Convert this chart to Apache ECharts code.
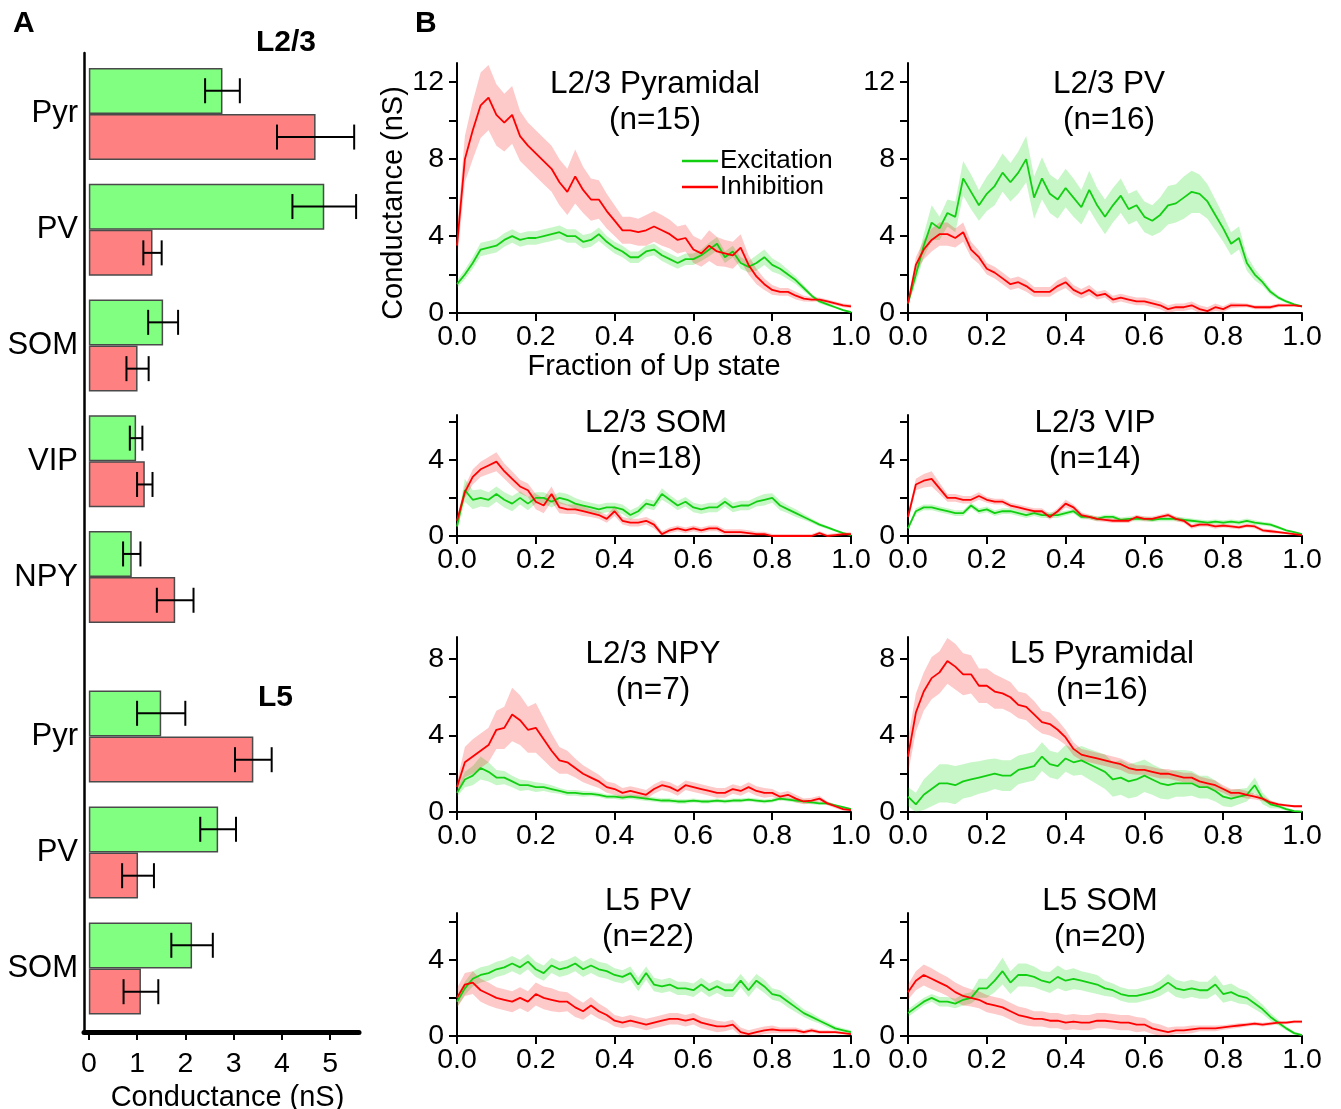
<!DOCTYPE html>
<html><head><meta charset="utf-8">
<script src="https://cdn.jsdelivr.net/npm/echarts@6/dist/echarts.min.js"></script>
<style>html,body{margin:0;padding:0;background:#fff}#c{width:1341px;height:1109px}</style>
</head><body><div id="c"></div>
<script>
// ---------- Panel A data ----------
const barCatsL23 = ['Pyr','PV','SOM','VIP','NPY'];
const excL23 = [2.77, 4.88, 1.54, 0.98, 0.89];
const excErrL23 = [0.36, 0.66, 0.31, 0.13, 0.18];
const inhL23 = [4.70, 1.32, 1.01, 1.16, 1.79];
const inhErrL23 = [0.80, 0.19, 0.23, 0.16, 0.38];
const barCatsL5 = ['Pyr','PV','SOM'];
const excL5 = [1.50, 2.68, 2.14];
const excErrL5 = [0.50, 0.37, 0.43];
const inhL5 = [3.41, 1.02, 1.08];
const inhErrL5 = [0.38, 0.33, 0.36];
const barTicks = [0,1,2,3,4,5];

// ---------- Panel B data ----------
const fraction = [0,0.02,0.04,0.06,0.08,0.1,0.12,0.14,0.16,0.18,
  0.2,0.22,0.24,0.26,0.28,0.3,0.32,0.34,0.36,0.38,
  0.4,0.42,0.44,0.46,0.48,0.5,0.52,0.54,0.56,0.58,
  0.6,0.62,0.64,0.66,0.68,0.7,0.72,0.74,0.76,0.78,
  0.8,0.82,0.84,0.86,0.88,0.9,0.92,0.94,0.96,0.98,1.0];
const xTicks = [0,0.2,0.4,0.6,0.8,1.0];
const yTicks12 = [0,2,4,6,8,10,12], yLabels12 = [0,4,8,12];
const yTicks6 = [0,2,4,6], yLabels6 = [0,4];
const yTicks8 = [0,2,4,6,8], yLabels8 = [0,4,8];

// L2/3 Pyramidal
const l23PyrExc = [1.5,2.0,2.6,3.3,3.4,3.5,3.8,4.0,3.8,3.9,
  3.9,4.0,4.1,4.2,4.0,4.0,3.7,3.8,4.1,3.7,
  3.4,3.2,2.9,2.9,3.2,3.3,3.0,2.8,2.6,2.8,
  2.8,3.0,3.3,3.6,2.9,3.2,2.6,2.4,2.6,2.9,
  2.5,2.3,2.0,1.7,1.3,0.9,0.6,0.45,0.3,0.15,0.05];
const l23PyrExcSem = [0.2,0.25,0.3,0.35,0.35,0.35,0.35,0.35,0.35,0.35,
  0.35,0.35,0.35,0.35,0.35,0.35,0.35,0.35,0.35,0.3,
  0.3,0.3,0.3,0.3,0.3,0.3,0.3,0.3,0.3,0.3,
  0.3,0.3,0.35,0.35,0.3,0.3,0.3,0.3,0.4,0.4,
  0.35,0.3,0.25,0.2,0.15,0.1,0.1,0.08,0.06,0.05,0.05];
const l23PyrInh = [3.5,8.0,9.5,10.8,11.2,10.3,9.9,10.3,9.2,8.7,
  8.3,7.9,7.5,6.8,6.3,7.1,6.4,5.9,5.9,5.3,
  4.8,4.3,4.3,4.2,4.3,4.5,4.3,4.1,3.8,3.9,
  3.3,3.1,3.5,3.2,3.1,3.0,3.4,2.5,1.9,1.5,
  1.2,1.1,1.1,0.9,0.75,0.7,0.7,0.6,0.5,0.4,0.35];
const l23PyrInhSem = [0.8,1.2,1.5,1.7,1.7,1.6,1.5,1.5,1.3,1.2,
  1.2,1.2,1.2,1.2,1.2,1.4,1.2,1.1,1.0,0.9,
  0.8,0.7,0.7,0.7,0.8,0.8,0.8,0.75,0.7,0.7,
  0.7,0.7,0.8,0.75,0.7,0.7,0.7,0.5,0.4,0.3,
  0.25,0.2,0.2,0.2,0.15,0.12,0.1,0.1,0.1,0.1,0.1];

// L2/3 PV
const l23PvExc = [0.5,2.0,3.5,4.7,4.4,5.2,5.0,7.0,6.3,5.6,
  6.2,6.6,7.3,6.8,7.3,8.0,6.0,7.0,6.2,5.9,
  6.5,6.0,5.5,6.4,5.6,5.0,5.6,6.1,5.4,5.6,
  5.0,4.8,5.1,5.6,5.7,6.0,6.3,6.2,5.8,5.1,
  4.4,3.6,3.9,2.6,2.0,1.6,1.1,0.8,0.6,0.45,0.35];
const l23PvExcSem = [0.1,0.4,0.6,0.9,0.6,0.7,0.8,0.9,0.9,0.8,
  0.9,1.0,1.0,1.0,1.1,1.2,1.1,1.1,1.0,1.0,
  1.0,1.0,0.9,1.0,0.9,0.9,0.9,0.9,0.8,0.8,
  0.8,0.8,0.9,1.0,1.0,1.1,1.1,1.0,0.9,0.8,
  0.7,0.6,0.6,0.4,0.3,0.2,0.15,0.1,0.08,0.06,0.05];
const l23PvInh = [0.5,2.5,3.3,3.8,4.1,4.1,3.9,4.2,3.3,2.9,
  2.3,2.1,1.8,1.5,1.6,1.4,1.1,1.1,1.1,1.4,
  1.6,1.2,1.0,1.2,0.9,1.0,0.7,0.8,0.7,0.6,
  0.6,0.5,0.4,0.2,0.3,0.3,0.4,0.2,0.1,0.3,
  0.2,0.4,0.4,0.4,0.3,0.3,0.3,0.4,0.4,0.4,0.35];
const l23PvInhSem = [0.1,0.4,0.5,0.6,0.6,0.6,0.5,0.5,0.4,0.35,
  0.3,0.3,0.3,0.3,0.3,0.3,0.25,0.25,0.25,0.3,
  0.3,0.25,0.25,0.25,0.2,0.2,0.2,0.2,0.2,0.2,
  0.2,0.2,0.2,0.2,0.2,0.2,0.2,0.2,0.2,0.2,
  0.15,0.15,0.12,0.1,0.1,0.1,0.1,0.1,0.08,0.06,0.05];

// L2/3 SOM
const l23SomExc = [0.5,2.4,1.9,2.0,1.9,2.2,1.9,1.7,2.0,1.7,
  2.0,2.0,1.8,2.0,1.9,1.7,1.6,1.5,1.4,1.5,
  1.5,1.4,1.1,1.3,1.7,1.6,2.2,1.9,1.6,1.8,
  1.5,1.4,1.5,1.5,1.8,1.5,1.6,1.6,1.8,1.9,
  2.0,1.6,1.4,1.2,1.0,0.8,0.6,0.45,0.3,0.15,0.05];
const l23SomExcSem = [0.2,0.6,0.5,0.45,0.4,0.4,0.4,0.4,0.35,0.35,
  0.3,0.3,0.3,0.3,0.3,0.3,0.25,0.25,0.25,0.25,
  0.25,0.25,0.25,0.25,0.25,0.25,0.3,0.25,0.25,0.25,
  0.25,0.25,0.25,0.25,0.25,0.25,0.25,0.25,0.25,0.3,
  0.25,0.25,0.2,0.2,0.15,0.12,0.1,0.08,0.06,0.05,0.05];
const l23SomInh = [0.8,2.3,3.1,3.5,3.7,3.9,3.4,3.0,2.6,2.4,
  1.8,1.6,2.2,1.5,1.4,1.4,1.3,1.2,1.1,0.9,
  1.3,0.8,0.7,0.7,0.8,0.6,0.1,0.3,0.4,0.3,
  0.4,0.3,0.4,0.4,0.2,0.2,0.2,0.15,0.1,0.1,
  0.0,0.0,0.0,0.0,0.0,0.0,0.15,0.0,0.05,0.1,0.1];
const l23SomInhSem = [0.2,0.3,0.4,0.4,0.45,0.5,0.4,0.4,0.35,0.35,
  0.4,0.4,0.4,0.3,0.25,0.25,0.25,0.2,0.2,0.2,
  0.25,0.2,0.2,0.2,0.2,0.2,0.15,0.15,0.15,0.15,
  0.15,0.15,0.15,0.15,0.15,0.15,0.15,0.15,0.12,0.12,
  0.1,0.1,0.1,0.1,0.1,0.1,0.1,0.1,0.1,0.1,0.1];

// L2/3 VIP
const l23VipExc = [0.4,1.3,1.5,1.5,1.4,1.3,1.2,1.2,1.6,1.3,
  1.4,1.2,1.3,1.3,1.2,1.1,1.2,1.1,1.1,1.1,
  1.2,1.3,1.0,1.0,0.9,1.0,1.0,0.85,0.9,0.9,
  0.9,0.85,0.9,0.9,0.9,0.85,0.8,0.75,0.7,0.75,
  0.7,0.75,0.7,0.8,0.7,0.65,0.6,0.45,0.3,0.2,0.1];
const l23VipExcSem = [0.1,0.15,0.15,0.15,0.15,0.15,0.15,0.15,0.15,0.15,
  0.15,0.15,0.15,0.15,0.15,0.15,0.15,0.15,0.15,0.15,
  0.12,0.12,0.12,0.12,0.12,0.12,0.12,0.12,0.12,0.12,
  0.12,0.12,0.12,0.12,0.12,0.12,0.12,0.12,0.12,0.12,
  0.12,0.12,0.12,0.12,0.12,0.1,0.1,0.08,0.06,0.05,0.05];
const l23VipInh = [1.0,2.7,2.9,3.0,2.5,2.0,2.0,1.9,1.9,2.1,
  1.9,1.8,1.8,1.6,1.5,1.4,1.3,1.3,1.0,1.3,
  1.7,1.5,1.1,1.0,0.9,0.85,0.8,0.8,0.8,1.0,
  0.9,0.9,1.0,1.1,0.9,0.8,0.5,0.6,0.6,0.5,
  0.55,0.5,0.45,0.55,0.5,0.3,0.25,0.2,0.15,0.1,0.05];
const l23VipInhSem = [0.2,0.3,0.35,0.4,0.3,0.2,0.2,0.2,0.2,0.2,
  0.15,0.15,0.15,0.15,0.15,0.15,0.15,0.15,0.15,0.15,
  0.2,0.15,0.15,0.12,0.12,0.12,0.12,0.12,0.12,0.12,
  0.12,0.12,0.12,0.12,0.12,0.12,0.12,0.12,0.12,0.12,
  0.1,0.1,0.1,0.1,0.1,0.1,0.1,0.08,0.06,0.05,0.05];

// L2/3 NPY
const l23NpyExc = [1.0,1.7,1.9,2.3,2.1,1.8,1.8,1.6,1.4,1.4,
  1.3,1.3,1.2,1.1,1.0,1.0,0.95,0.95,0.9,0.8,
  0.8,0.75,0.8,0.75,0.7,0.65,0.6,0.6,0.55,0.55,
  0.6,0.55,0.55,0.6,0.55,0.6,0.6,0.65,0.6,0.55,
  0.6,0.7,0.65,0.6,0.55,0.5,0.45,0.45,0.35,0.25,0.15];
const l23NpyExcSem = [0.2,0.4,0.5,0.6,0.5,0.4,0.35,0.3,0.3,0.25,
  0.25,0.2,0.2,0.15,0.15,0.15,0.15,0.12,0.12,0.12,
  0.12,0.12,0.12,0.12,0.12,0.12,0.12,0.12,0.12,0.12,
  0.1,0.1,0.1,0.1,0.1,0.1,0.1,0.1,0.1,0.1,
  0.1,0.1,0.1,0.1,0.1,0.1,0.08,0.08,0.06,0.05,0.05];
const l23NpyInh = [1.3,2.6,2.9,3.2,3.5,4.3,4.4,5.1,4.8,4.3,
  4.4,3.8,3.2,2.7,2.6,2.3,2.0,1.8,1.6,1.3,
  1.2,1.0,1.1,1.0,0.9,1.2,1.4,1.3,1.1,1.4,
  1.3,1.2,1.1,1.0,1.0,1.2,1.1,1.3,1.1,1.0,
  1.0,0.8,0.9,0.7,0.55,0.6,0.7,0.45,0.3,0.15,0.1];
const l23NpyInhSem = [0.3,0.8,0.9,0.9,0.9,1.0,1.1,1.4,1.3,1.2,
  1.3,1.1,0.9,0.7,0.6,0.5,0.45,0.4,0.35,0.3,
  0.3,0.25,0.25,0.25,0.25,0.25,0.25,0.25,0.25,0.25,
  0.25,0.25,0.25,0.25,0.25,0.25,0.25,0.25,0.25,0.25,
  0.2,0.2,0.2,0.2,0.15,0.15,0.15,0.1,0.1,0.08,0.05];

// L5 Pyramidal
const l5PyrExc = [0.8,0.4,0.9,1.2,1.5,1.5,1.4,1.6,1.7,1.8,
  1.9,2.0,1.9,1.9,2.2,2.3,2.4,2.9,2.5,2.4,
  2.8,2.6,2.7,2.5,2.3,2.1,1.7,1.8,1.6,1.7,
  1.9,1.7,1.5,1.4,1.5,1.5,1.5,1.3,1.3,1.1,
  0.8,0.7,0.8,0.9,1.4,0.7,0.4,0.3,0.15,0.05,0.02];
const l5PyrExcSem = [0.5,0.6,0.8,0.9,1.0,1.0,1.0,0.9,0.9,0.85,
  0.85,0.8,0.8,0.8,0.75,0.75,0.75,0.75,0.7,0.7,
  0.7,0.7,0.75,0.8,0.85,0.9,0.9,0.9,0.9,0.9,
  0.85,0.8,0.8,0.75,0.7,0.7,0.65,0.6,0.6,0.55,
  0.5,0.45,0.4,0.35,0.4,0.3,0.2,0.12,0.08,0.05,0.03];
const l5PyrInh = [2.9,5.2,6.3,7.0,7.3,7.9,7.6,7.2,7.2,6.6,
  6.6,6.3,6.2,6.0,5.6,5.5,5.1,4.7,4.6,4.3,
  3.9,3.3,3.0,2.9,2.8,2.7,2.6,2.5,2.3,2.2,
  2.2,2.1,2.0,2.0,1.9,1.8,1.8,1.6,1.5,1.4,
  1.2,1.0,1.0,0.9,0.8,0.7,0.5,0.4,0.35,0.3,0.3];
const l5PyrInhSem = [0.9,1.0,1.0,1.1,1.1,1.2,1.2,1.1,1.0,0.9,
  0.9,0.9,0.8,0.8,0.7,0.7,0.7,0.6,0.6,0.5,
  0.4,0.35,0.3,0.3,0.3,0.3,0.3,0.3,0.3,0.25,
  0.25,0.25,0.25,0.25,0.25,0.25,0.25,0.25,0.25,0.25,
  0.2,0.2,0.2,0.2,0.15,0.12,0.1,0.08,0.06,0.05,0.05];

// L5 PV
const l5PvExc = [1.8,2.5,3.0,3.2,3.3,3.5,3.6,3.8,3.6,3.9,
  3.5,3.3,3.7,3.5,3.6,3.8,3.5,3.7,3.5,3.4,
  3.2,3.1,3.3,2.7,3.3,2.7,2.6,2.7,2.5,2.5,
  2.4,2.7,2.4,2.6,2.4,2.4,2.9,2.4,2.9,2.6,
  2.2,2.1,1.8,1.5,1.2,1.0,0.8,0.6,0.4,0.3,0.2];
const l5PvExcSem = [0.3,0.35,0.4,0.4,0.4,0.4,0.4,0.4,0.4,0.4,
  0.4,0.4,0.4,0.4,0.4,0.4,0.4,0.4,0.4,0.4,
  0.35,0.35,0.35,0.35,0.35,0.35,0.35,0.35,0.35,0.35,
  0.35,0.35,0.35,0.35,0.35,0.35,0.35,0.35,0.35,0.35,
  0.3,0.3,0.3,0.25,0.2,0.2,0.15,0.15,0.12,0.1,0.1];
const l5PvInh = [2.0,2.7,2.8,2.4,2.2,2.0,1.9,1.8,2.0,1.8,
  2.2,2.0,1.9,1.8,1.8,1.5,1.3,1.6,1.3,1.1,
  0.8,0.7,0.8,0.7,0.6,0.7,0.8,0.9,0.9,0.8,
  0.9,0.7,0.6,0.5,0.5,0.6,0.2,0.1,0.2,0.3,
  0.35,0.3,0.3,0.3,0.2,0.3,0.2,0.2,0.2,0.15,0.1];
const l5PvInhSem = [0.5,0.6,0.6,0.6,0.6,0.55,0.55,0.55,0.55,0.55,
  0.6,0.6,0.6,0.55,0.5,0.5,0.45,0.45,0.4,0.35,
  0.3,0.3,0.3,0.3,0.3,0.3,0.3,0.3,0.3,0.3,
  0.3,0.3,0.3,0.3,0.25,0.25,0.25,0.2,0.2,0.2,
  0.2,0.15,0.15,0.15,0.12,0.12,0.1,0.1,0.08,0.06,0.05];

// L5 SOM
const l5SomExc = [1.2,1.5,1.8,2.0,1.8,1.8,1.7,1.9,2.0,2.5,
  2.5,2.9,3.4,2.8,3.2,3.2,3.1,2.9,2.8,3.1,
  2.9,3.0,2.9,2.8,2.7,2.5,2.4,2.2,2.1,2.1,
  2.2,2.3,2.5,2.8,2.5,2.4,2.5,2.4,2.4,2.7,
  2.2,2.3,2.1,2.0,1.7,1.4,1.0,0.7,0.4,0.15,0.05];
const l5SomExcSem = [0.2,0.2,0.2,0.2,0.25,0.25,0.25,0.3,0.3,0.5,
  0.5,0.6,0.7,0.6,0.6,0.6,0.55,0.5,0.55,0.6,
  0.55,0.55,0.5,0.5,0.5,0.4,0.35,0.35,0.35,0.35,
  0.35,0.35,0.4,0.45,0.45,0.45,0.45,0.45,0.45,0.5,
  0.45,0.45,0.4,0.35,0.3,0.25,0.2,0.15,0.1,0.08,0.05];
const l5SomInh = [2.3,2.9,3.2,3.0,2.8,2.6,2.3,2.1,2.0,1.9,
  1.7,1.6,1.5,1.3,1.1,1.0,0.9,0.9,0.8,0.8,
  0.7,0.75,0.7,0.7,0.8,0.8,0.75,0.7,0.7,0.6,
  0.6,0.4,0.3,0.2,0.3,0.3,0.35,0.4,0.4,0.4,
  0.45,0.5,0.55,0.6,0.65,0.6,0.65,0.7,0.7,0.75,0.75];
const l5SomInhSem = [0.4,0.5,0.55,0.55,0.5,0.5,0.5,0.5,0.45,0.45,
  0.45,0.45,0.45,0.45,0.45,0.45,0.4,0.4,0.4,0.4,
  0.4,0.4,0.4,0.4,0.4,0.4,0.4,0.4,0.4,0.4,
  0.35,0.3,0.3,0.25,0.2,0.2,0.2,0.15,0.15,0.15,
  0.12,0.12,0.12,0.1,0.1,0.1,0.1,0.08,0.08,0.08,0.08];

// ---------- styles & layout ----------
const FONT = 'Liberation Sans, Arial, Helvetica, sans-serif';
const GREEN = '#12cf12', RED = '#ff0000';
const GREEN_BAND = 'rgba(0,215,0,0.22)', RED_BAND = 'rgba(245,0,0,0.21)';
const BAR_GREEN = '#80ff80', BAR_RED = '#ff8080';
const TICK_FS = 28.5, NAME_FS = 29, TITLE_FS = 31.5;

const panels = [
  {title:'L2/3 Pyramidal\n(n=15)', exc:l23PyrExc, excSem:l23PyrExcSem, inh:l23PyrInh, inhSem:l23PyrInhSem, cx:655},
  {title:'L2/3 PV\n(n=16)', exc:l23PvExc, excSem:l23PvExcSem, inh:l23PvInh, inhSem:l23PvInhSem, cx:1109},
  {title:'L2/3 SOM\n(n=18)', exc:l23SomExc, excSem:l23SomExcSem, inh:l23SomInh, inhSem:l23SomInhSem, cx:656},
  {title:'L2/3 VIP\n(n=14)', exc:l23VipExc, excSem:l23VipExcSem, inh:l23VipInh, inhSem:l23VipInhSem, cx:1095},
  {title:'L2/3 NPY\n(n=7)', exc:l23NpyExc, excSem:l23NpyExcSem, inh:l23NpyInh, inhSem:l23NpyInhSem, cx:653},
  {title:'L5 Pyramidal\n(n=16)', exc:l5PyrExc, excSem:l5PyrExcSem, inh:l5PyrInh, inhSem:l5PyrInhSem, cx:1102},
  {title:'L5 PV\n(n=22)', exc:l5PvExc, excSem:l5PvExcSem, inh:l5PvInh, inhSem:l5PvInhSem, cx:648},
  {title:'L5 SOM\n(n=20)', exc:l5SomExc, excSem:l5SomExcSem, inh:l5SomInh, inhSem:l5SomInhSem, cx:1100}
];
const colLeft = [457, 908], gridW = 394;
const rows = [
  {top:63, h:250, max:13, ticks:yTicks12, labels:yLabels12, titleTop:66},
  {top:415, h:121, max:6.35, ticks:yTicks6, labels:yLabels6, titleTop:405},
  {top:637, h:175, max:9.15, ticks:yTicks8, labels:yLabels8, titleTop:636},
  {top:913, h:123, max:6.45, ticks:yTicks6, labels:yLabels6, titleTop:883}
];

const grid = [], xAxis = [], yAxis = [], series = [], title = [];

// ---------- Panel A ----------
const A_LEFT = 84, A_W = 275, A_MIN = -0.1, A_MAX = 5.6;
grid.push({left:A_LEFT, top:53, width:A_W, height:979, outerBoundsMode:'none'});
grid.push({left:A_LEFT, top:56, width:A_W, height:579, outerBoundsMode:'none'});
grid.push({left:A_LEFT, top:678.5, width:A_W, height:348, outerBoundsMode:'none'});
xAxis.push({gridIndex:0, type:'value', min:A_MIN, max:A_MAX,
  axisLine:{show:true, onZero:false, lineStyle:{color:'#000', width:5}},
  axisTick:{show:true, customValues:barTicks, length:8, lineStyle:{color:'#000', width:2}},
  axisLabel:{show:true, customValues:barTicks, margin:18, color:'#000', fontSize:TICK_FS, fontFamily:FONT},
  splitLine:{show:false},
  name:'Conductance (nS)', nameLocation:'middle', nameGap:46,
  nameTextStyle:{fontSize:NAME_FS, color:'#000', fontFamily:FONT, padding:[0,0,0,12]}});
yAxis.push({gridIndex:0, type:'value', min:0, max:1,
  axisLine:{show:true, onZero:false, lineStyle:{color:'#000', width:2.5}},
  axisTick:{show:false}, axisLabel:{show:false}, splitLine:{show:false}});
[1,2].forEach(g => {
  xAxis.push({gridIndex:g, type:'value', min:A_MIN, max:A_MAX, show:false, splitLine:{show:false}});
});
yAxis.push({gridIndex:1, type:'category', data:barCatsL23, inverse:true,
  axisLine:{show:false}, axisTick:{show:false},
  axisLabel:{margin:6, color:'#000', fontSize:31, fontFamily:FONT}});
yAxis.push({gridIndex:2, type:'category', data:barCatsL5, inverse:true,
  axisLine:{show:false}, axisTick:{show:false},
  axisLabel:{margin:6, color:'#000', fontSize:31, fontFamily:FONT}});

function barSeries(idx, vals, color) {
  return {type:'bar', xAxisIndex:idx, yAxisIndex:idx, data:vals, barWidth:46, barGap:'0%',
    itemStyle:{color:color, borderColor:'#4a4a4a', borderWidth:1.5}, silent:true, z:2};
}
function errSeries(idx, vals, errs, side) {
  return {type:'custom', xAxisIndex:idx, yAxisIndex:idx, silent:true, z:5,
    data: vals.map((v,i)=>[v, i, errs[i]]),
    encode:{x:0, y:1},
    renderItem(params, api) {
      const m = api.value(0), cat = api.value(1), e = api.value(2);
      const band = api.size([0,1])[1];
      const off = side * band * 0.2;
      const p1 = api.coord([m - e, cat]);
      const p2 = api.coord([m + e, cat]);
      const y = p1[1] + off, h = 12.5;
      const st = {stroke:'#000', lineWidth:2};
      return {type:'group', children:[
        {type:'line', shape:{x1:p1[0], y1:y, x2:p2[0], y2:y}, style:st},
        {type:'line', shape:{x1:p1[0], y1:y-h, x2:p1[0], y2:y+h}, style:st},
        {type:'line', shape:{x1:p2[0], y1:y-h, x2:p2[0], y2:y+h}, style:st}
      ]};
    }};
}
series.push(barSeries(1, excL23, BAR_GREEN), barSeries(1, inhL23, BAR_RED));
series.push(barSeries(2, excL5, BAR_GREEN), barSeries(2, inhL5, BAR_RED));
series.push(errSeries(1, excL23, excErrL23, -1), errSeries(1, inhL23, inhErrL23, 1));
series.push(errSeries(2, excL5, excErrL5, -1), errSeries(2, inhL5, inhErrL5, 1));

// ---------- Panel B ----------
function bandSeries(ai, mean, sem, color) {
  const lo = mean.map((m,i)=>Math.max(0, m - sem[i]));
  const hi = mean.map((m,i)=>m + sem[i]);
  return {type:'custom', xAxisIndex:ai, yAxisIndex:ai, silent:true, z:1,
    data: fraction.map((x,i)=>[x, lo[i], hi[i]]),
    encode:{x:0, y:[1,2]},
    renderItem(params, api) {
      if (params.dataIndex !== 0) return;
      const pts = [];
      for (let i = 0; i < fraction.length; i++) pts.push(api.coord([fraction[i], hi[i]]));
      for (let i = fraction.length - 1; i >= 0; i--) pts.push(api.coord([fraction[i], lo[i]]));
      return {type:'polygon', shape:{points:pts}, style:{fill:color}};
    }};
}
function lineSeries(ai, name, vals, color) {
  return {type:'line', name:name, xAxisIndex:ai, yAxisIndex:ai,
    data: fraction.map((x,i)=>[x, vals[i]]), symbol:'none', showSymbol:false,
    lineStyle:{color:color, width:1.8}, itemStyle:{color:color}, silent:true, z:3};
}

panels.forEach((p, k) => {
  const r = rows[Math.floor(k/2)], c = k % 2;
  const ai = 3 + k;
  grid.push({left:colLeft[c], top:r.top, width:gridW, height:r.h, outerBoundsMode:'none'});
  const xa = {gridIndex:ai, type:'value', min:0, max:1, interval:0.2,
    axisLine:{show:true, onZero:false, lineStyle:{color:'#000', width:2}},
    axisTick:{show:true, customValues:xTicks, length:8, lineStyle:{color:'#000', width:2}},
    axisLabel:{customValues:xTicks, margin:10, color:'#000', fontSize:TICK_FS, fontFamily:FONT, formatter:v=>v.toFixed(1)},
    splitLine:{show:false}};
  const ya = {gridIndex:ai, type:'value', min:0, max:r.max,
    axisLine:{show:true, onZero:false, lineStyle:{color:'#000', width:2}},
    axisTick:{show:true, customValues:r.ticks, length:8, lineStyle:{color:'#000', width:2}},
    axisLabel:{customValues:r.labels, margin:13, color:'#000', fontSize:TICK_FS, fontFamily:FONT},
    splitLine:{show:false}};
  if (k === 0) {
    xa.name = 'Fraction of Up state'; xa.nameLocation = 'middle'; xa.nameGap = 39;
    xa.nameTextStyle = {fontSize:NAME_FS, color:'#000', fontFamily:FONT};
    ya.name = 'Conductance (nS)'; ya.nameLocation = 'middle'; ya.nameGap = 49;
    ya.nameTextStyle = {fontSize:NAME_FS, color:'#000', fontFamily:FONT, padding:[0,30,0,0]};
  }
  xAxis.push(xa); yAxis.push(ya);
  series.push(bandSeries(ai, p.exc, p.excSem, GREEN_BAND));
  series.push(bandSeries(ai, p.inh, p.inhSem, RED_BAND));
  series.push(lineSeries(ai, 'Excitation', p.exc, GREEN));
  series.push(lineSeries(ai, 'Inhibition', p.inh, RED));
  title.push({text:p.title, left:p.cx, top:r.titleTop, textAlign:'center', padding:0,
    textStyle:{fontSize:TITLE_FS, fontWeight:'normal', color:'#000', lineHeight:36, fontFamily:FONT}});
});

title.push({text:'A', left:13, top:9, textAlign:'left', padding:0,
  textStyle:{fontSize:30, fontWeight:'bold', color:'#000', fontFamily:FONT}});
title.push({text:'B', left:415, top:9, textAlign:'left', padding:0,
  textStyle:{fontSize:30, fontWeight:'bold', color:'#000', fontFamily:FONT}});
title.push({text:'L2/3', left:256, top:28, textAlign:'left', padding:0,
  textStyle:{fontSize:30, fontWeight:'bold', color:'#000', fontFamily:FONT}});
title.push({text:'L5', left:258, top:683, textAlign:'left', padding:0,
  textStyle:{fontSize:30, fontWeight:'bold', color:'#000', fontFamily:FONT}});

const chart = echarts.init(document.getElementById('c'), null, {renderer:'canvas'});
chart.setOption({
  backgroundColor:'#fff',
  animation:false,
  textStyle:{fontFamily:FONT},
  title: title,
  legend:{data:['Excitation','Inhibition'], left:682, top:148, orient:'vertical', padding:0,
    itemGap:0, itemWidth:36, itemHeight:2.5, icon:'rect', selectedMode:false,
    textStyle:{fontSize:26, lineHeight:25, color:'#000', fontFamily:FONT, padding:[0,0,0,-3]}},
  grid: grid, xAxis: xAxis, yAxis: yAxis, series: series
});
</script></body></html>
